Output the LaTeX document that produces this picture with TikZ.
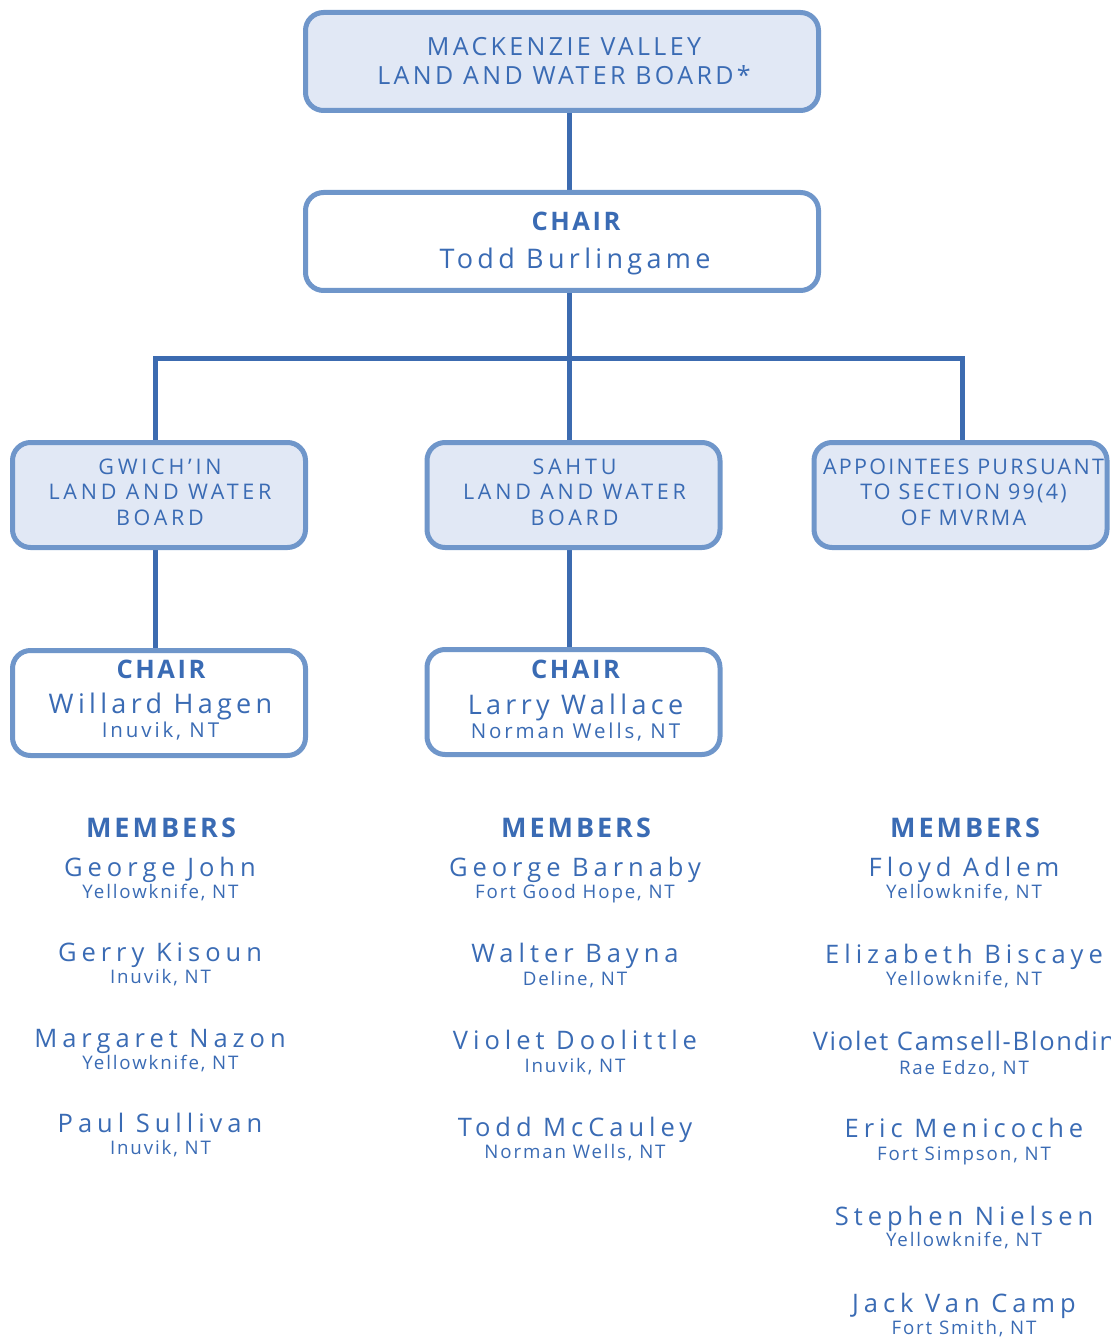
\documentclass[tikz,border=0pt]{standalone}
\usepackage{fontspec}
\setmainfont{Open Sans}
\usetikzlibrary{backgrounds}
\definecolor{txtc}{HTML}{3A6BB4}
\definecolor{bord}{HTML}{6F96CA}
\definecolor{bfill}{HTML}{E1E8F5}
\definecolor{lnk}{HTML}{3C6BB0}
\newcommand\myf[2]{\fontsize{#1}{#1}\selectfont\addfontfeature{LetterSpace=#2}}
\newcommand\myb[2]{\bfseries\fontsize{#1}{#1}\selectfont\addfontfeature{LetterSpace=#2}}
\tikzset{
  widebox/.style={draw=bord, line width=5pt, rounded corners=18pt, inner sep=0pt,
    minimum width=513pt, minimum height=98pt},
  smallbox/.style={draw=bord, line width=5pt, rounded corners=18pt, inner sep=0pt,
    minimum width=293pt, minimum height=105pt},
  link/.style={draw=lnk, line width=5pt, line join=miter},
  lbl/.style={text=txtc, inner sep=0pt, anchor=base},
  ttl/.style={lbl, font=\myf{25}{13.5}},
  hdr/.style={lbl, font=\myf{21.5}{17.5}},
  hdrn/.style={lbl, font=\myf{21.5}{10.5}},
  chb/.style={lbl, font=\myb{25.5}{10}},
  chn/.style={lbl, font=\myf{27}{16}},
  chl/.style={lbl, font=\myf{20.5}{14}},
  mem/.style={lbl, font=\myb{27}{11}},
  mn/.style={lbl, font=\myf{25.5}{19.5}},
  mnt/.style={lbl, font=\myf{25.5}{7}},
  ml/.style={lbl, font=\myf{18.7}{10}}
}
\begin{document}
\begin{tikzpicture}[x=1pt, y=-1pt]
\useasboundingbox (0,0) rectangle (1110,1337);
% boxes
\node[widebox, fill=bfill] (top) at (562,61.5) {};
\node[widebox, fill=white] (chair) at (562,241.5) {};
\node[smallbox, fill=bfill] (gw) at (159,495) {};
\node[smallbox, fill=bfill] (sa) at (573.5,495) {};
\node[smallbox, fill=bfill] (ap) at (960.5,495) {};
\node[smallbox, fill=white] (gc) at (159,703) {};
\node[smallbox, fill=white] (sc) at (573.5,702) {};
% connectors
\coordinate (spine) at (569,358);
\coordinate (busL) at (155,358);
\coordinate (busR) at (962,358);
\begin{scope}[on background layer]
\draw[link] (top.south -| spine) -- (chair.north -| spine);
\draw[link] (chair.south -| spine) -- (sa.north -| spine);
\draw[link] (gw.north -| busL) -- (busL) -- (busR) -- (ap.north -| busR);
\draw[link] (gw.south -| busL) -- (gc.north -| busL);
\draw[link] (sa.south -| spine) -- (sc.north -| spine);
\end{scope}
% top box text
\node[ttl] (t1) at (564,56) {MACKENZIE VALLEY};
\node[ttl] (t2) at (564,85) {LAND AND WATER BOARD*};
% main chair
\node[chb] (c1) at (576,231) {CHAIR};
\node[chn] (c2) at (575,269) {Todd Burlingame};
% board headers
\node[hdr] (g1) at (160,474.3) {GWICH’IN};
\node[hdr] (g2) at (160,499) {LAND AND WATER};
\node[hdr] (g3) at (160,525.7) {BOARD};
\node[hdr] (s1) at (574.5,474.3) {SAHTU};
\node[hdr] (s2) at (574.5,499) {LAND AND WATER};
\node[hdr] (s3) at (574.5,525.7) {BOARD};
\node[hdrn] (a1) at (963.5,474.3) {APPOINTEES PURSUANT};
\node[hdrn] (a2) at (963.5,499) {TO SECTION 99(4)};
\node[hdrn] (a3) at (963.5,525.7) {OF MVRMA};
% board chairs
\node[chb] (gc1) at (161,678.3) {CHAIR};
\node[chn] (gc2) at (160.5,713.3) {Willard Hagen};
\node[chl] (gc3) at (160.5,737.3) {Inuvik, NT};
\node[chb] (sc1) at (575.5,678.3) {CHAIR};
\node[chn] (sc2) at (575.5,714) {Larry Wallace};
\node[chl] (sc3) at (575.5,738) {Norman Wells, NT};
% members headings
\node[mem] (mh1) at (161,837.7) {MEMBERS};
\node[mem] (mh2) at (576,837.7) {MEMBERS};
\node[mem] (mh3) at (965,837.7) {MEMBERS};
% left members
\node[mn] (l1n) at (160,876) {George John};
\node[ml] (l1l) at (160.5,898.3) {Yellowknife, NT};
\node[mn] (l2n) at (160,961.7) {Gerry Kisoun};
\node[ml] (l2l) at (160.5,983.3) {Inuvik, NT};
\node[mn] (l3n) at (160,1047.3) {Margaret Nazon};
\node[ml] (l3l) at (160.5,1069.3) {Yellowknife, NT};
\node[mn] (l4n) at (160,1132) {Paul Sullivan};
\node[ml] (l4l) at (160.5,1154) {Inuvik, NT};
% middle members
\node[mn] (m1n) at (575,876) {George Barnaby};
\node[ml] (m1l) at (575,898.5) {Fort Good Hope, NT};
\node[mn] (m2n) at (575,962) {Walter Bayna};
\node[ml] (m2l) at (575,985.5) {Deline, NT};
\node[mn] (m3n) at (575,1049) {Violet Doolittle};
\node[ml] (m3l) at (575,1072.5) {Inuvik, NT};
\node[mn] (m4n) at (575,1136) {Todd McCauley};
\node[ml] (m4l) at (575,1158.5) {Norman Wells, NT};
% right members
\node[mn] (r1n) at (964,876) {Floyd Adlem};
\node[ml] (r1l) at (964,898.5) {Yellowknife, NT};
\node[mn] (r2n) at (964,963) {Elizabeth Biscaye};
\node[ml] (r2l) at (964,985.5) {Yellowknife, NT};
\node[mnt] (r3n) at (964,1050) {Violet Camsell-Blondin};
\node[ml] (r3l) at (964,1074) {Rae Edzo, NT};
\node[mn] (r4n) at (964,1137.3) {Eric Menicoche};
\node[ml] (r4l) at (964,1160) {Fort Simpson, NT};
\node[mn] (r5n) at (964,1225) {Stephen Nielsen};
\node[ml] (r5l) at (964,1246.7) {Yellowknife, NT};
\node[mn] (r6n) at (964,1312) {Jack Van Camp};
\node[ml] (r6l) at (964,1334) {Fort Smith, NT};
\end{tikzpicture}
\end{document}
